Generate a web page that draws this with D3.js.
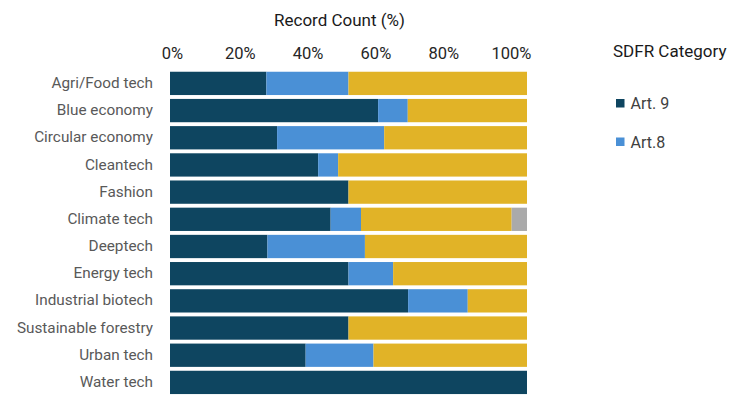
<!DOCTYPE html>
<html>
<head>
<meta charset="utf-8">
<script src="https://cdn.jsdelivr.net/npm/d3@7"></script>
<style>
  body { margin: 0; background: #fff; }
  text { font-family: Roboto, "Noto Sans", sans-serif; }
</style>
</head>
<body>
<div id="chart"></div>
<script>
// categories, top to bottom
const categories = ["Agri/Food tech", "Blue economy", "Circular economy", "Cleantech", "Fashion",
  "Climate tech", "Deeptech", "Energy tech", "Industrial biotech", "Sustainable forestry",
  "Urban tech", "Water tech"];

// share of records per SDFR category (%)
const art9  = [27, 58.3, 30, 41.5, 50, 45, 27.3, 50, 66.7, 50, 38, 100];
const art8  = [23, 8.3, 30, 5.6, 0, 8.5, 27.3, 12.5, 16.7, 0, 19, 0];
const art6  = [50, 33.4, 40, 52.9, 50, 42.2, 45.4, 37.5, 16.6, 50, 43, 0];
const other = [0, 0, 0, 0, 0, 4.3, 0, 0, 0, 0, 0, 0];

const ticks = [0, 20, 40, 60, 80, 100];

const seriesKeys = ["art9", "art8", "art6", "other"];
const colors = {art9: "#0e4560", art8: "#4a90d6", art6: "#e1b327", other: "#aaaaaa"};
const legendItems = [{key: "art9", label: "Art. 9"}, {key: "art8", label: "Art.8"}];

const W = 734, H = 397;

// build table for the stack layout
const table = categories.map(function(c, i) {
  return {name: c, art9: art9[i], art8: art8[i], art6: art6[i], other: other[i]};
});

const svg = d3.select("#chart").append("svg")
    .attr("width", W)
    .attr("height", H);

// set the ranges
const x = d3.scaleLinear().domain([0, 100]).range([170, 527]);
// tick labels in the original sit slightly inside the bar extent
const xLab = d3.scaleLinear().domain([0, 100]).range([172, 511]);

const y = d3.scaleBand()
    .domain(categories)
    .range([69.8, 396])
    .paddingInner(0.143)
    .paddingOuter(0.0715);

const stacked = d3.stack().keys(seriesKeys)(table);

// bars
svg.append("g").selectAll("g")
  .data(stacked)
  .enter().append("g")
    .attr("fill", function(d) { return colors[d.key]; })
  .selectAll("rect")
  .data(function(d) { return d; })
  .enter().append("rect")
    .attr("x", function(d) { return x(d[0]); })
    .attr("y", function(d) { return y(d.data.name); })
    .attr("width", function(d) { return Math.max(0, x(d[1]) - x(d[0])); })
    .attr("height", y.bandwidth());

// top axis labels
const axis = svg.append("g")
    .attr("transform", "translate(0, 58.5)")
    .call(d3.axisTop(xLab).tickValues(ticks).tickSize(0).tickPadding(0)
      .tickFormat(function(d) { return d + "%"; }));
axis.select(".domain").remove();
axis.selectAll("text")
    .style("font-size", "16.5px")
    .style("font-family", "Roboto, sans-serif")
    .attr("fill", "#262626");

// axis title
svg.append("text")
    .attr("x", 339.5)
    .attr("y", 26)
    .attr("text-anchor", "middle")
    .style("font-size", "17px")
    .attr("fill", "#1a1a1a")
    .text("Record Count (%)");

// category labels
svg.append("g").selectAll("text")
  .data(categories)
  .enter().append("text")
    .attr("x", 153)
    .attr("y", function(d) { return y(d) + y.bandwidth() / 2; })
    .attr("dy", "0.3em")
    .attr("text-anchor", "end")
    .style("font-size", "15.3px")
    .attr("fill", "#595959")
    .text(function(d) { return d; });

// legend
svg.append("text")
    .attr("x", 613)
    .attr("y", 56.7)
    .style("font-size", "17px")
    .attr("fill", "#1a1a1a")
    .text("SDFR Category");

const leg = svg.append("g").selectAll("g")
  .data(legendItems)
  .enter().append("g")
    .attr("transform", function(d, i) { return "translate(616," + (99 + i * 38.5) + ")"; });
leg.append("rect")
    .attr("width", 8.5)
    .attr("height", 8.5)
    .attr("fill", function(d) { return colors[d.key]; });
leg.append("text")
    .attr("x", 14.5)
    .attr("y", 10.3)
    .style("font-size", "16px")
    .attr("fill", "#404040")
    .text(function(d) { return d.label; });
</script>
</body>
</html>
